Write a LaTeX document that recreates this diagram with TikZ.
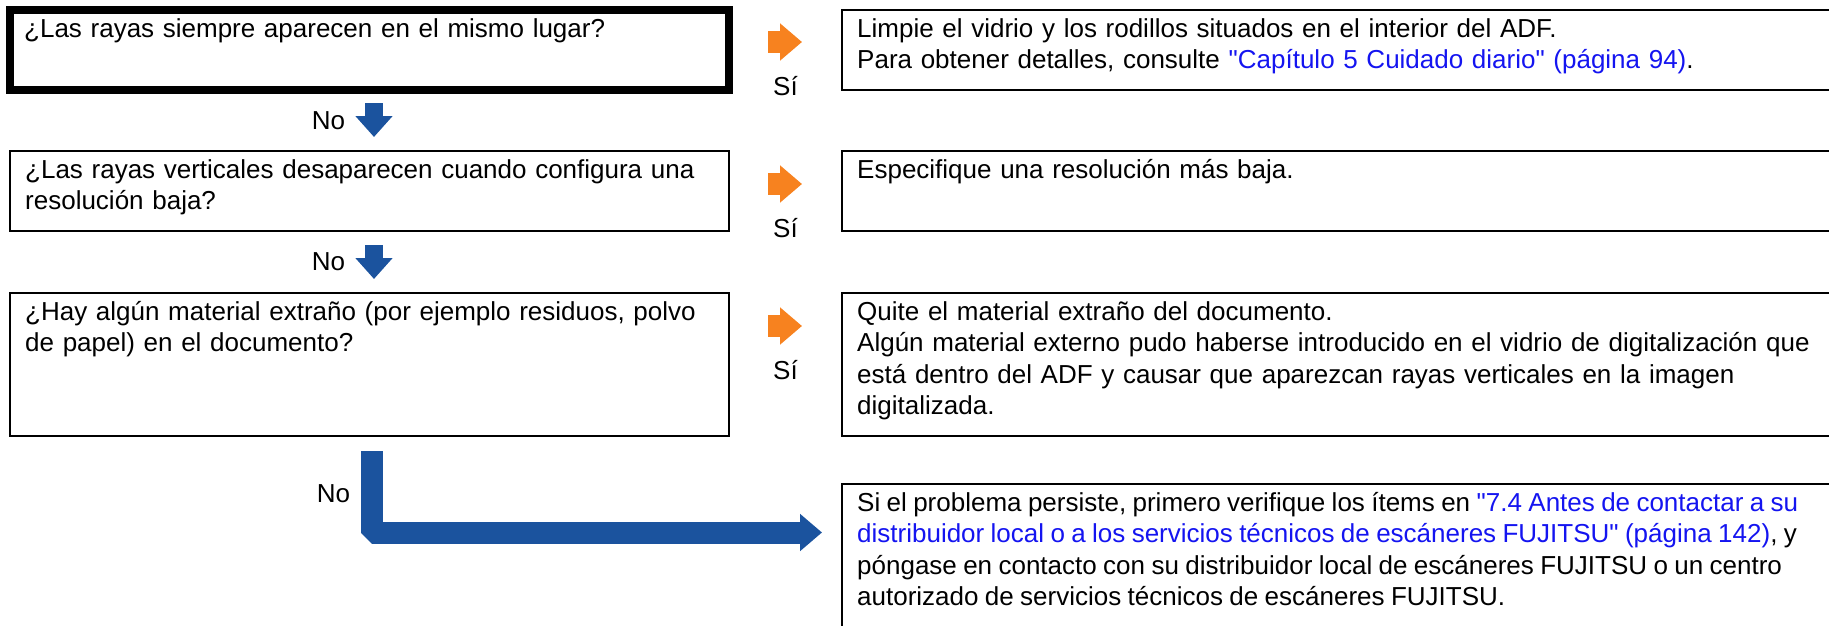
\documentclass[tikz,border=0pt]{standalone}
\usepackage{fontspec}
\newfontfamily\arialish{Liberation Sans}
\usetikzlibrary{arrows.meta,positioning}

\definecolor{yesorange}{RGB}{247,130,31}
\definecolor{noblue}{RGB}{27,83,158}
\definecolor{linkblue}{RGB}{20,20,240}
\newcommand\boxfont{\arialish\fontsize{26}{31.5}\selectfont}
\newcommand\lnk[1]{\textcolor{linkblue}{#1}}

\tikzset{
  qbox/.style={draw, line width=2.5pt, anchor=north west, inner sep=0pt, outer sep=0pt, minimum width=719pt},
  abox/.style={qbox, minimum width=1100pt},
  boxtext/.style={anchor=north west, inner sep=0pt, text width=1000pt, align=left},
  lbl/.style={inner sep=0pt, outer sep=0pt},
  yesarrow/.style={draw=yesorange, line width=22pt, -{Triangle[length=22pt,width=36pt]}, shorten <=39pt, shorten >=40pt},
  noarrow/.style={draw=noblue, line width=18pt, -{Triangle[length=21pt,width=36pt]}}
}

\begin{document}
\begin{tikzpicture}[x=1pt, y=-1pt, font=\boxfont]
  \clip (0,0) rectangle (1829,626);
  % questions
  \node[qbox, line width=8pt, minimum height=80pt] (q1) at (10,10) {};
  \node[qbox, minimum height=80pt] (q2) at (10,151) {};
  \node[qbox, minimum height=143pt] (q3) at (10,293) {};
  % answers
  \node[abox, minimum height=80pt] (a1) at (842,10) {};
  \node[abox, minimum height=80pt] (a2) at (842,151) {};
  \node[abox, minimum height=143pt] (a3) at (842,293) {};
  \node[abox, minimum height=200pt] (a4) at (842,484) {};

  \node[boxtext] (q1t) at ([xshift=14pt,yshift=-5pt]q1.north west) {\strut ¿Las rayas siempre aparecen en el mismo lugar?};
  \node[boxtext] (q2t) at ([xshift=15pt,yshift=-5pt]q2.north west) {\strut ¿Las rayas verticales desaparecen cuando configura una\\resolución baja?};
  \node[boxtext] (q3t) at ([xshift=15pt,yshift=-5pt]q3.north west) {\strut ¿Hay algún material extraño (por ejemplo residuos, polvo\\de papel) en el documento?};
  \node[boxtext] (a1t) at ([xshift=15pt,yshift=-5pt]a1.north west) {\strut Limpie el vidrio y los rodillos situados en el interior del ADF.\\Para obtener detalles, consulte \lnk{"Capítulo 5 Cuidado diario" (página 94)}.};
  \node[boxtext] (a2t) at ([xshift=15pt,yshift=-5pt]a2.north west) {\strut Especifique una resolución más baja.};
  \node[boxtext] (a3t) at ([xshift=15pt,yshift=-5pt]a3.north west) {\strut Quite el material extraño del documento.\\Algún material externo pudo haberse introducido en el vidrio de digitalización que\\está dentro del ADF y causar que aparezcan rayas verticales en la imagen\\digitalizada.};
  \node[boxtext] (a4t) at ([xshift=15pt,yshift=-5pt]a4.north west) {\spaceskip=0.245em\relax\strut Si el problema persiste, primero verifique los ítems en \lnk{"7.4 Antes de contactar a su}\\\lnk{distribuidor local o a los servicios técnicos de escáneres FUJITSU" (página 142)}, y\\póngase en contacto con su distribuidor local de escáneres FUJITSU o un centro\\autorizado de servicios técnicos de escáneres FUJITSU.};

  % yes
  \draw[yesarrow] ([yshift=-32pt]q1.north east) -- node[lbl, below=34pt] (s1) {Sí} ([yshift=-32pt]a1.north west);
  \draw[yesarrow] ([yshift=-33pt]q2.north east) -- node[lbl, below=34pt] (s2) {Sí} ([yshift=-33pt]a2.north west);
  \draw[yesarrow] ([yshift=-33pt]q3.north east) -- node[lbl, below=34pt] (s3) {Sí} ([yshift=-33pt]a3.north west);
  % no
  \draw[noarrow, shorten <=13pt, shorten >=14pt] ([xshift=4.5pt]q1.south) -- node[lbl, left=29pt] (n1) {No} ([xshift=4.5pt]q2.north);
  \draw[noarrow, shorten <=14pt, shorten >=14pt] ([xshift=4.5pt]q2.south) -- node[lbl, left=29pt] (n2) {No} ([xshift=4.5pt]q3.north);
  \draw[noarrow, line width=22pt, line join=bevel, -{Triangle[length=22pt,width=36pt]}, shorten <=15pt, shorten >=20pt]
    ([xshift=2.5pt]q3.south) |- node[lbl, pos=0.3, left=22pt] (n3) {No} ([yshift=-48.5pt]a4.north west);
\end{tikzpicture}
\end{document}
